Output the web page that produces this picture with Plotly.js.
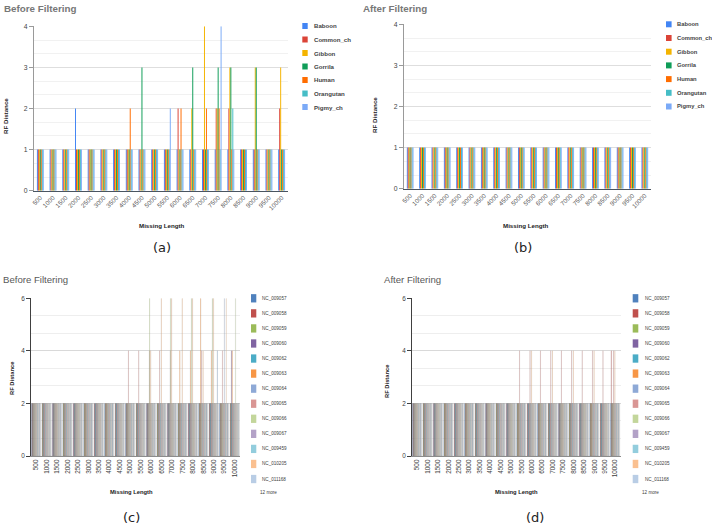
<!DOCTYPE html>
<html>
<head>
<meta charset="utf-8">
<script src="https://cdn.plot.ly/plotly-3.0.1.min.js"></script>
<style>
  html, body { margin: 0; padding: 0; background: #ffffff; }
  #chart { width: 712px; height: 526px; }
</style>
</head>
<body>
<div id="chart"></div>
<script>
// ---------- categories ----------
const missingLength = ['500','1000','1500','2000','2500','3000','3500','4000','4500','5000',
                       '5500','6000','6500','7000','7500','8000','8500','9000','9500','10000'];

// ---------- panels (a) / (b): seven primate genomes ----------
const primateNames  = ['Baboon','Common_ch','Gibbon','Gorrila','Human','Orangutan','Pigmy_ch'];
const primateColors = ['#4285F4','#DB4437','#F4B400','#0F9D58','#FF6D00','#46BDC6','#7BAAF7'];

const baboonBefore    = [1,1,1,2,1,1,1,1,1,1,1,1,1,1,1,1,1,1,1,1];
const commonBefore    = [1,1,1,1,1,1,1,1,1,1,1,2,1,1,2,2,1,1,1,2];
const gibbonBefore    = [1,1,1,1,1,1,1,1,1,1,1,1,2,4,2,3,1,3,1,3];
const gorrilaBefore   = [1,1,1,1,1,1,1,1,3,1,1,1,3,1,3,3,1,3,1,1];
const humanBefore     = [1,1,1,1,1,1,1,2,1,1,1,2,1,2,2,1,1,1,1,1];
const orangutanBefore = [1,1,1,1,1,1,1,1,1,1,1,1,1,1,1,2,1,1,1,1];
const pigmyBefore     = [1,1,1,1,1,1,1,1,1,1,2,1,1,1,4,1,1,1,1,1];

const baboonAfter    = [1,1,1,1,1,1,1,1,1,1,1,1,1,1,1,1,1,1,1,1];
const commonAfter    = [1,1,1,1,1,1,1,1,1,1,1,1,1,1,1,1,1,1,1,1];
const gibbonAfter    = [1,1,1,1,1,1,1,1,1,1,1,1,1,1,1,1,1,1,1,1];
const gorrilaAfter   = [1,1,1,1,1,1,1,1,1,1,1,1,1,1,1,1,1,1,1,1];
const humanAfter     = [1,1,1,1,1,1,1,1,1,1,1,1,1,1,1,1,1,1,1,1];
const orangutanAfter = [1,1,1,1,1,1,1,1,1,1,1,1,1,1,1,1,1,1,1,1];
const pigmyAfter     = [1,1,1,1,1,1,1,1,1,1,1,1,1,1,1,1,1,1,1,1];

// ---------- panels (c) / (d): 25 accession series (13 listed + 12 more) ----------
const ncNames = ['NC_009057','NC_009058','NC_009059','NC_009060','NC_009062','NC_009063',
                 'NC_009064','NC_009065','NC_009066','NC_009067','NC_009459','NC_010205','NC_011168',
                 'Series 14','Series 15','Series 16','Series 17','Series 18','Series 19',
                 'Series 20','Series 21','Series 22','Series 23','Series 24','Series 25'];
const ncColors = ['#4F81BD','#C0504D','#9BBB59','#8064A2','#4BACC6','#F79646',
                  '#8EA9D6','#D99694','#C3D69B','#B3A2C7','#93CDDD','#FAC090','#B9CDE5',
                  '#E6B9B8','#D7E4BD','#CCC1DA','#B7DEE8','#FCD5B5','#DCE6F2',
                  '#E4E4E4','#EEECE1','#95B3D7','#EDEDED','#F4F4F4','#FAFAFA'];
const ncLegendCount = 13;

const nc009057Before = [2,2,2,2,2,2,2,2,2,2,2,2,2,2,2,2,2,2,2,2];
const nc009058Before = [2,2,2,2,2,2,2,2,2,2,2,2,2,2,2,2,2,2,2,2];
const nc009059Before = [2,2,2,2,2,2,2,2,2,2,2,2,2,2,2,2,2,2,2,2];
const nc009060Before = [2,2,2,2,2,2,2,2,2,2,2,2,2,2,2,2,2,2,2,4];
const nc009062Before = [2,2,2,2,2,2,2,2,2,2,2,2,2,2,2,2,2,2,2,2];
const nc009063Before = [2,2,2,2,2,2,2,2,2,2,2,2,2,2,4,4,6,4,2,4];
const nc009064Before = [2,2,2,2,2,2,2,2,2,2,2,2,2,2,2,2,2,2,2,2];
const nc009065Before = [2,2,2,2,2,2,2,2,2,4,4,4,4,4,2,2,4,2,4,2];
const nc009066Before = [2,2,2,2,2,2,2,2,2,2,2,6,2,6,2,6,2,6,2,2];
const nc009067Before = [2,2,2,2,2,2,2,2,2,2,2,2,2,2,2,2,2,2,2,2];
const nc009459Before = [2,2,2,2,2,2,2,2,2,2,2,2,2,2,2,2,2,2,2,2];
const nc010205Before = [2,2,2,2,2,2,2,2,2,2,2,4,6,6,6,6,4,6,2,2];
const nc011168Before = [2,2,2,2,2,2,2,2,2,2,2,2,2,2,2,2,2,2,6,2];
const s14Before = [2,2,2,2,2,2,2,2,2,2,2,2,2,2,2,2,2,2,2,2];
const s15Before = [2,2,2,2,2,2,2,2,2,2,2,2,2,2,2,2,2,2,2,6];
const s16Before = [2,2,2,2,2,2,2,2,2,2,2,2,2,2,2,2,2,2,2,2];
const s17Before = [2,2,2,2,2,2,2,2,2,2,2,2,2,2,2,2,2,2,2,2];
const s18Before = [2,2,2,2,2,2,2,2,2,2,2,2,2,2,2,2,2,2,6,2];
const s19Before = [2,2,2,2,2,2,2,2,2,2,2,2,2,2,2,2,2,2,2,2];
const s20Before = [2,2,2,2,2,2,2,2,2,2,2,2,2,2,2,2,2,2,2,2];
const s21Before = [2,2,2,2,2,2,2,2,2,2,2,2,2,2,2,2,2,2,2,2];
const s22Before = [2,2,2,2,2,2,2,2,2,2,2,2,2,2,2,2,2,4,2,2];
const s23Before = [2,2,2,2,2,2,2,2,2,2,2,2,2,2,2,2,2,2,2,2];
const s24Before = [2,2,2,2,2,2,2,2,2,2,2,2,2,2,2,2,2,2,2,2];
const s25Before = [2,2,2,2,2,2,2,2,2,2,2,2,2,2,2,2,2,2,2,2];

const nc009057After = [2,2,2,2,2,2,2,2,2,2,2,2,2,2,2,2,2,2,2,2];
const nc009058After = [2,2,2,2,2,2,2,2,2,2,2,2,2,2,2,2,2,2,2,4];
const nc009059After = [2,2,2,2,2,2,2,2,2,2,2,2,2,2,2,2,2,2,2,2];
const nc009060After = [2,2,2,2,2,2,2,2,2,2,2,2,2,2,2,2,2,2,2,2];
const nc009062After = [2,2,2,2,2,2,2,2,2,2,2,2,2,2,2,2,2,2,2,2];
const nc009063After = [2,2,2,2,2,2,2,2,2,2,2,2,2,2,2,2,2,2,2,2];
const nc009064After = [2,2,2,2,2,2,2,2,2,2,2,2,2,2,2,2,2,2,2,2];
const nc009065After = [2,2,2,2,2,2,2,2,2,2,4,4,4,4,4,4,4,4,4,4];
const nc009066After = [2,2,2,2,2,2,2,2,2,2,2,2,2,2,2,2,2,2,2,2];
const nc009067After = [2,2,2,2,2,2,2,2,2,2,2,2,2,2,2,2,2,2,2,2];
const nc009459After = [2,2,2,2,2,2,2,2,2,2,2,2,2,2,2,2,2,2,2,2];
const nc010205After = [2,2,2,2,2,2,2,2,2,2,2,4,2,4,2,4,2,4,2,4];
const nc011168After = [2,2,2,2,2,2,2,2,2,2,2,2,2,2,2,2,2,2,2,2];
const s14After = [2,2,2,2,2,2,2,2,2,2,2,2,2,2,2,2,2,2,2,2];
const s15After = [2,2,2,2,2,2,2,2,2,2,2,2,2,2,2,2,2,2,2,2];
const s16After = [2,2,2,2,2,2,2,2,2,2,2,2,2,2,2,2,2,2,2,2];
const s17After = [2,2,2,2,2,2,2,2,2,2,2,2,2,2,2,2,2,2,2,2];
const s18After = [2,2,2,2,2,2,2,2,2,2,2,2,2,2,2,2,2,2,2,2];
const s19After = [2,2,2,2,2,2,2,2,2,2,2,2,2,2,2,2,2,2,2,2];
const s20After = [2,2,2,2,2,2,2,2,2,2,2,2,2,2,2,2,2,2,2,2];
const s21After = [2,2,2,2,2,2,2,2,2,2,2,2,2,2,2,2,2,2,2,2];
const s22After = [2,2,2,2,2,2,2,2,2,2,2,2,2,2,2,2,2,2,2,2];
const s23After = [2,2,2,2,2,2,2,2,2,2,2,2,2,2,2,2,2,2,2,2];
const s24After = [2,2,2,2,2,2,2,2,2,2,2,2,2,2,2,2,2,2,2,2];
const s25After = [2,2,2,2,2,2,2,2,2,2,2,2,2,2,2,2,2,2,2,2];

const primateBefore = [baboonBefore, commonBefore, gibbonBefore, gorrilaBefore, humanBefore, orangutanBefore, pigmyBefore];
const primateAfter  = [baboonAfter, commonAfter, gibbonAfter, gorrilaAfter, humanAfter, orangutanAfter, pigmyAfter];
const ncBefore = [nc009057Before, nc009058Before, nc009059Before, nc009060Before, nc009062Before, nc009063Before,
                  nc009064Before, nc009065Before, nc009066Before, nc009067Before, nc009459Before, nc010205Before,
                  nc011168Before, s14Before, s15Before, s16Before, s17Before, s18Before, s19Before, s20Before,
                  s21Before, s22Before, s23Before, s24Before, s25Before];
const ncAfter = [nc009057After, nc009058After, nc009059After, nc009060After, nc009062After, nc009063After,
                 nc009064After, nc009065After, nc009066After, nc009067After, nc009459After, nc010205After,
                 nc011168After, s14After, s15After, s16After, s17After, s18After, s19After, s20After,
                 s21After, s22After, s23After, s24After, s25After];

// ---------- geometry helpers (pixel -> paper) ----------
const W = 712, H = 526;
const px = x => x / W;
const py = y => 1 - y / H;

const SANS = 'Liberation Sans, Arial, sans-serif';

const traces = [];
function addBars(seriesList, names, colors, xa, ya, groupWidth, outline) {
  const n = seriesList.length;
  const bw = groupWidth / n;
  seriesList.forEach((vals, k) => {
    traces.push({
      type: 'bar', x: missingLength, y: vals, name: names[k],
      xaxis: xa, yaxis: ya, width: bw, offset: -groupWidth / 2 + k * bw,
      marker: { color: colors[k], line: outline },
      showlegend: false
    });
  });
}
const noOutline = { width: 0 };
const thinOutline = { width: 0.15, color: 'rgba(60,60,60,0.45)' };
addBars(primateBefore, primateNames, primateColors, 'x',  'y',  0.54, noOutline);
addBars(primateAfter,  primateNames, primateColors, 'x2', 'y2', 0.54, noOutline);
addBars(ncBefore, ncNames, ncColors, 'x3', 'y3', 0.9, thinOutline);
addBars(ncAfter,  ncNames, ncColors, 'x4', 'y4', 0.9, thinOutline);

// ---------- annotations & hand-placed legends ----------
const annotations = [];
const shapes = [];
function label(text, x, y, opts) {
  annotations.push(Object.assign({
    text: text, xref: 'paper', yref: 'paper', x: px(x), y: py(y),
    xanchor: 'center', yanchor: 'middle', showarrow: false
  }, opts));
}
function legend(names, colors, count, boxX, boxW, boxH, textX, rowY, rowStep, font) {
  for (let k = 0; k < count; k++) {
    const yc = rowY + k * rowStep;
    shapes.push({
      type: 'rect', xref: 'paper', yref: 'paper',
      x0: px(boxX), x1: px(boxX + boxW), y0: py(yc + boxH / 2), y1: py(yc - boxH / 2),
      fillcolor: colors[k], line: { width: 0 }
    });
    label(names[k], textX, yc, { xanchor: 'left', font: font });
  }
}

// panel titles
label('Before Filtering', 2, 8, { xanchor: 'left', font: { family: SANS, size: 9.8, color: '#777777', weight: 'bold' } });
label('After Filtering', 361, 8, { xanchor: 'left', font: { family: SANS, size: 9.8, color: '#777777', weight: 'bold' } });
label('Before Filtering', 1, 279, { xanchor: 'left', font: { family: SANS, size: 9.6, color: '#595959' } });
label('After Filtering', 382, 279, { xanchor: 'left', font: { family: SANS, size: 9.6, color: '#595959' } });

// axis titles
const axTitleTop = { family: SANS, size: 6.2, color: '#222222', weight: 'bold' };
label('RF Distance', 5, 116, { textangle: -90, font: axTitleTop });
label('RF Distance', 374, 115, { textangle: -90, font: axTitleTop });
label('Missing Length', 161.5, 225.5, { font: axTitleTop });
label('Missing Length', 526, 225.5, { font: axTitleTop });
const axTitleLow = { family: SANS, size: 5.8, color: '#222222', weight: 'bold' };
label('RF Distance', 12, 378, { textangle: -90, font: axTitleLow });
label('RF Distance', 387, 381, { textangle: -90, font: axTitleLow });
label('Missing Length', 131, 492, { font: axTitleLow });
label('Missing Length', 516, 492, { font: axTitleLow });

// panel letters
const letterFont = { family: 'DejaVu Sans', size: 13, color: '#222222' };
label('(a)', 161.5, 247.5, { font: letterFont });
label('(b)', 523, 247.5, { font: letterFont });
label('(c)', 131, 517.5, { font: letterFont });
label('(d)', 535, 517.5, { font: letterFont });

// legends
const legTopA = { family: SANS, size: 6.1, color: '#444444', weight: 'bold' };
const legTopB = { family: SANS, size: 5.8, color: '#444444', weight: 'bold' };
legend(primateNames, primateColors, 7, 302.3, 5.4, 6, 312, 26, 13.5, legTopA);
legend(primateNames, primateColors, 7, 666, 5.6, 6, 674.5, 24.3, 13.7, legTopB);
const legLow = { family: SANS, size: 4.6, color: '#404040' };
legend(ncNames, ncColors, ncLegendCount, 251, 5.3, 8.3, 260, 298.3, 15.06, legLow);
legend(ncNames, ncColors, ncLegendCount, 632.7, 5.6, 8.3, 642.7, 298.3, 15.06, legLow);
label('12 more', 258, 492, { xanchor: 'left', font: legLow });
label('12 more', 640, 492, { xanchor: 'left', font: legLow });

// ---------- axes ----------
function topX(domain, anchor) {
  return {
    domain: domain, anchor: anchor, type: 'category',
    showline: true, linecolor: '#4a5560', linewidth: 1,
    ticks: '', showgrid: false, tickangle: -45,
    tickfont: { family: SANS, size: 6.3, color: '#555555' }, automargin: false
  };
}
function topY(domain, anchor) {
  return {
    domain: domain, anchor: anchor, range: [0, 4], dtick: 1, tick0: 0,
    showline: true, linecolor: '#9a9a9a', linewidth: 1,
    ticks: 'outside', ticklen: 4, tickcolor: '#9a9a9a',
    gridcolor: '#dedede', zeroline: false,
    minor: { dtick: 1 / 3, showgrid: true, gridcolor: '#f1f1f1', ticks: '' },
    tickfont: { family: SANS, size: 6.8, color: '#444444' }, automargin: false
  };
}
function lowX(domain, anchor) {
  return {
    domain: domain, anchor: anchor, type: 'category',
    showline: true, linecolor: '#8c8c8c', linewidth: 1,
    ticks: '', showgrid: false, tickangle: -90,
    tickfont: { family: SANS, size: 6.4, color: '#404040' }, automargin: false
  };
}
function lowY(domain, anchor) {
  return {
    domain: domain, anchor: anchor, range: [0, 6], dtick: 2, tick0: 0,
    showline: true, linecolor: '#404040', linewidth: 1,
    ticks: 'outside', ticklen: 4, tickcolor: '#404040',
    gridcolor: '#d9d9d9', zeroline: false,
    minor: { dtick: 2 / 3, showgrid: true, gridcolor: '#eeeeee', ticks: '' },
    tickfont: { family: SANS, size: 6.4, color: '#404040' }, automargin: false
  };
}

const layout = {
  width: W, height: H,
  margin: { l: 0, r: 0, t: 0, b: 0 },
  paper_bgcolor: '#ffffff', plot_bgcolor: '#ffffff',
  font: { family: SANS, color: '#444444' },
  barmode: 'overlay', showlegend: false,
  xaxis:  topX([px(34), px(288)], 'y'),
  yaxis:  topY([py(190.7), py(26.3)], 'x'),
  xaxis2: topX([px(404), px(651)], 'y2'),
  yaxis2: topY([py(188.7), py(24.3)], 'x2'),
  xaxis3: lowX([px(31), px(240)], 'y3'),
  yaxis3: lowY([py(456), py(298.3)], 'x3'),
  xaxis4: lowX([px(412), px(620.5)], 'y4'),
  yaxis4: lowY([py(456), py(298.3)], 'x4'),
  annotations: annotations,
  shapes: shapes
};

Plotly.newPlot('chart', traces, layout, { staticPlot: true, displayModeBar: false });
</script>
</body>
</html>
